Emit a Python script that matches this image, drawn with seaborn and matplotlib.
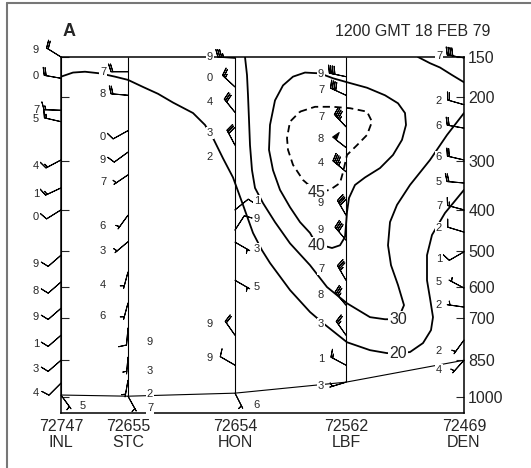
import numpy as np
import matplotlib
matplotlib.use('Agg')
import matplotlib.pyplot as plt
from matplotlib.lines import Line2D
import seaborn as sns

sns.set_style('white')
plt.rcParams['font.family'] = ['Liberation Sans', 'DejaVu Sans']

# stations along the section, west to east
station_ids = ['72747', '72655', '72654', '72562', '72469']
station_names = ['INL', 'STC', 'HON', 'LBF', 'DEN']
station_dist = [0, 67, 174, 285, 403]
surface_p = [991, 996, 983, 937, 850]
pressure_ticks = [150, 200, 300, 400, 500, 600, 700, 850, 1000]

# soundings: level (mb), plotted digit, wind dir (deg), wind speed (kt)
inl_p = [150, 175, 218, 235, 299, 353, 400, 511, 586, 667, 758, 850, 941, 991]
inl_digit = ['9', '0', '7', '5', '4', '1', '0', '9', '8', '9', '1', '3', '4', '5']
inl_dir = [302, 280, 272, 283, 242, 245, 238, 229, 229, 229, 229, 229, 225, 144]
inl_spd = [20, 20, 15, 15, 15, 15, 10, 10, 10, 10, 10, 10, 10, 5]

stc_p = [167, 197, 249, 285, 327, 412, 476, 557, 650, 733, 838, 929, 996]
stc_digit = ['7', '8', '0', '9', '7', '6', '3', '4', '6', '9', '3', '2', '7']
stc_dir = [270, 275, 241, 234, 236, 216, 230, 195, 195, 185, 185, 190, 151]
stc_spd = [20, 20, 10, 10, 5, 5, 5, 5, 5, 10, 5, 5, 5]

hon_p = [151, 186, 221, 273, 294, 400, 447, 477, 581, 758, 869, 983]
hon_digit = ['9', '0', '4', '3', '2', '1', '9', '3', '5', '9', '9', '6']
hon_dir = [272, 313, 321, 332, 0, 51, 33, 120, 120, 325, 300, 153]
hon_spd = [35, 25, 30, 30, 0, 10, 10, 5, 5, 20, 10, 5]

lbf_p = [173, 197, 243, 277, 321, 412, 472, 581, 657, 758, 869, 937]
lbf_digit = ['9', '7', '7', '8', '4', '9', '9', '7', '8', '3', '1', '3']
lbf_dir = [282, 295, 317, 308, 310, 330, 320, 330, 320, 325, 298, 253]
lbf_spd = [40, 40, 45, 50, 45, 40, 40, 35, 35, 25, 15, 5]

den_p = [151, 210, 245, 299, 343, 400, 452, 502, 604, 663, 775, 850]
den_digit = ['7', '2', '6', '6', '5', '7', '2', '1', '5', '2', '2', '4']
den_dir = [280, 286, 280, 283, 275, 285, 287, 240, 298, 278, 216, 222]
den_spd = [40, 20, 20, 20, 20, 15, 10, 10, 5, 5, 5, 5]

# digits written on the east side of the station line
right_digits = {'INL': [13], 'STC': [9, 10, 11, 12], 'HON': [5, 6, 7, 8, 11]}

# isotachs (kt), distance along section vs pressure
iso20_x = [0, 12, 24, 39, 54, 67, 82, 97, 112, 132, 144, 152, 162, 172, 182, 192, 201, 209,
           229, 249, 262, 286, 309, 326, 337, 349, 362, 370, 372, 369, 366, 366, 371, 384, 403]
iso20_p = [173, 168, 167, 169, 173, 177, 186, 195, 207, 222, 240, 261, 296, 332, 389, 454, 498, 532,
           610, 679, 716, 783, 812, 823, 823, 819, 786, 740, 696, 635, 581, 511, 459, 407, 357]

iso30_x = [184, 186, 187, 188, 189, 191, 194, 202, 214, 229, 249, 266, 286, 309, 324, 337,
           343, 337, 330, 327, 329, 336, 349, 369, 386, 403]
iso30_p = [150, 171, 197, 232, 273, 318, 353, 385, 428, 480, 538, 601, 651, 696, 703, 703,
           657, 595, 538, 485, 428, 389, 347, 299, 256, 222]

iso40_x = [256, 249, 239, 229, 219, 212, 208, 209, 214, 222, 232, 244, 259, 272, 289, 306, 324,
           337, 344, 345, 341, 332, 319, 304, 294, 288, 286, 285, 284, 279, 271, 264]
iso40_p = [485, 454, 428, 394, 357, 318, 281, 240, 204, 184, 173, 168, 169, 175, 181, 187, 197,
           208, 222, 240, 264, 290, 314, 332, 347, 374, 405, 435, 464, 485, 492, 487]

iso45_x = [239, 254, 272, 289, 306, 311, 306, 296, 286, 282, 279, 269, 256, 242, 232, 227, 226, 229, 239]
iso45_p = [220, 213, 213, 215, 220, 235, 256, 273, 290, 322, 343, 357, 362, 337, 308, 281, 261, 235, 220]

iso_ne_x = [357, 369, 379, 391, 403]
iso_ne_p = [150, 157, 162, 171, 180]

iso_labels = ['20', '30', '40', '45']
iso_label_x = [337, 337, 256, 256]
iso_label_p = [823, 703, 485, 362]

STAFF = 17  # barb staff length, pixels
BARB_LEN = np.sqrt(STAFF / (0.5 * 100 / 72))  # matplotlib scales barbs by length/2 * dpi/72


def kappa(p):
    return np.power(np.clip(p, 1, None), 0.286)


def kappa_inv(q):
    return np.power(np.clip(q, 1e-6, None), 1 / 0.286)


def draw_station(ax, name, x, p, digits, wdir, wspd):
    p = np.asarray(p, float)
    a = np.radians(wdir)
    spd = np.asarray(wspd, float)
    u = -spd * np.sin(a)
    v = -spd * np.cos(a)
    m = spd > 0
    ax.barbs(np.full(m.sum(), x), p[m], u[m], v[m], length=BARB_LEN,
             linewidth=0.75, barbcolor='k', flagcolor='k', zorder=4, clip_on=False,
             sizes=dict(spacing=0.11, height=0.45, width=0.28))
    for i, (pi, d, ai) in enumerate(zip(p, digits, a)):
        dx = 22 if i in right_digits.get(name, []) else -25
        dy = 0.8 * STAFF * np.cos(ai) if spd[i] > 0 else 0
        ax.annotate(d, (x, pi), xytext=(dx, dy), textcoords='offset pixels',
                    ha='center', va='center', fontsize=8, zorder=5,
                    annotation_clip=False,
                    bbox=dict(boxstyle='square,pad=0.1', fc='white', ec='none'))


fig = plt.figure(figsize=(5.31, 4.68), dpi=100)
ax = fig.add_axes([61 / 531, 1 - 413 / 468, 403 / 531, 356 / 468])
ax.set_yscale('function', functions=(kappa, kappa_inv))

# isotachs
for xs, ps in [(iso20_x, iso20_p), (iso30_x, iso30_p), (iso40_x, iso40_p), (iso_ne_x, iso_ne_p)]:
    sns.lineplot(x=xs, y=ps, sort=False, estimator=None, color='k', lw=1.3, ax=ax)
sns.lineplot(x=iso45_x, y=iso45_p, sort=False, estimator=None, color='k', lw=1.3,
             linestyle=(0, (4, 2.5)), ax=ax)
for t, xl, pl in zip(iso_labels, iso_label_x, iso_label_p):
    ax.text(xl, pl, t, ha='center', va='center', fontsize=11.5, zorder=3,
            bbox=dict(boxstyle='square,pad=0.05', fc='white', ec='none'))

# station lines and terrain
ax.vlines(station_dist, 150, surface_p, color='k', lw=0.8)
ax.plot(station_dist, surface_p, color='k', lw=0.8)

draw_station(ax, 'INL', station_dist[0], inl_p, inl_digit, inl_dir, inl_spd)
draw_station(ax, 'STC', station_dist[1], stc_p, stc_digit, stc_dir, stc_spd)
draw_station(ax, 'HON', station_dist[2], hon_p, hon_digit, hon_dir, hon_spd)
draw_station(ax, 'LBF', station_dist[3], lbf_p, lbf_digit, lbf_dir, lbf_spd)
draw_station(ax, 'DEN', station_dist[4], den_p, den_digit, den_dir, den_spd)

ax.set_xlim(station_dist[0], station_dist[-1])
ax.set_ylim(1070, 150)
ax.set_yticks(pressure_ticks)
ax.set_yticklabels([str(v) for v in pressure_ticks])
ax.tick_params(axis='y', left=True, right=True, labelleft=False, labelright=True,
               direction='in', length=6, width=0.8, labelsize=11.5, pad=3)
ax.set_xticks(station_dist)
ax.set_xticklabels([f'{i}\n{n}' for i, n in zip(station_ids, station_names)],
                   fontsize=11.5, linespacing=1.1)
ax.tick_params(axis='x', length=0, pad=4)
ax.minorticks_off()
ax.set_xlabel('')
ax.set_ylabel('')
for s in ax.spines.values():
    s.set_color('k')
    s.set_linewidth(1.1)

fig.text(63 / 531, 1 - 31 / 468, 'A', fontsize=13, fontweight='bold', va='center')
fig.text(490 / 531, 1 - 32 / 468, '1200 GMT 18 FEB 79', fontsize=11.5, ha='right', va='center')

# scan frame: top and left edges only
fig.add_artist(Line2D([7 / 531, 1], [1 - 3 / 468, 1 - 3 / 468], transform=fig.transFigure,
                      color='#777777', lw=1.5))
fig.add_artist(Line2D([7 / 531, 7 / 531], [0, 1 - 3 / 468], transform=fig.transFigure,
                      color='#777777', lw=1.5))

fig.savefig('out.png', dpi=100)
